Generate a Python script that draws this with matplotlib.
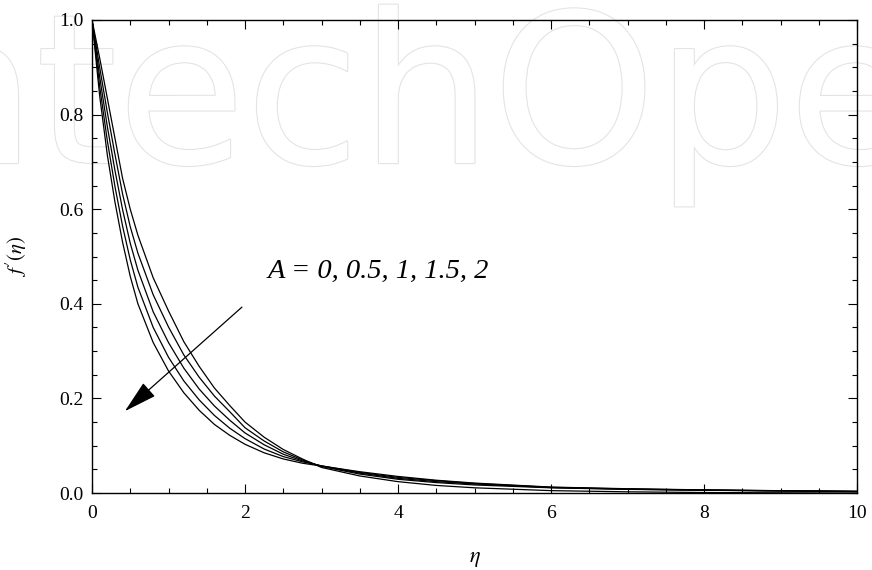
import numpy as np
import matplotlib
matplotlib.use('Agg')
import matplotlib.pyplot as plt
import matplotlib.patheffects as pe

# 数据
eta = [0, 0.1, 0.2, 0.3, 0.4, 0.5, 0.6, 0.8, 1.0, 1.2, 1.4, 1.6, 1.8, 2.0,
       2.25, 2.5, 2.75, 3.0, 3.5, 4.0, 4.5, 5.0, 6.0, 7.0, 8.0, 9.0, 10.0]

# A = 2, 1.5, 1, 0.5, 0
fp_A2 = [1, 0.840, 0.715, 0.615, 0.530, 0.458, 0.400, 0.318, 0.258, 0.212, 0.175, 0.145, 0.122, 0.103,
         0.085, 0.072, 0.063, 0.057, 0.045, 0.035, 0.027, 0.021, 0.0125, 0.009, 0.0066, 0.0049, 0.0036]
fp_A15 = [1, 0.860, 0.745, 0.648, 0.564, 0.493, 0.435, 0.350, 0.287, 0.237, 0.197, 0.164, 0.137, 0.115,
          0.093, 0.077, 0.066, 0.0575, 0.0435, 0.033, 0.026, 0.020, 0.012, 0.0085, 0.0063, 0.0047, 0.0034]
fp_A1 = [1, 0.880, 0.775, 0.682, 0.599, 0.528, 0.471, 0.383, 0.318, 0.264, 0.220, 0.184, 0.154, 0.127,
         0.102, 0.082, 0.068, 0.057, 0.042, 0.031, 0.024, 0.019, 0.0115, 0.008, 0.006, 0.0045, 0.0032]
fp_A05 = [1, 0.900, 0.805, 0.716, 0.632, 0.563, 0.507, 0.419, 0.351, 0.292, 0.245, 0.205, 0.172, 0.138,
          0.110, 0.087, 0.070, 0.056, 0.040, 0.029, 0.022, 0.017, 0.011, 0.0077, 0.0058, 0.0043, 0.003]
fp_A0 = [1, 0.920, 0.835, 0.750, 0.665, 0.600, 0.545, 0.455, 0.385, 0.320, 0.268, 0.222, 0.185, 0.150,
         0.118, 0.092, 0.072, 0.054, 0.036, 0.024, 0.016, 0.011, 0.005, 0.0025, 0.001, 0.0004, 0.0]

curves = [fp_A2, fp_A15, fp_A1, fp_A05, fp_A0]

x_ticks = [0, 2, 4, 6, 8, 10]
y_ticks = [0.0, 0.2, 0.4, 0.6, 0.8, 1.0]
y_tick_labels = ['0.0', '0.2', '0.4', '0.6', '0.8', '1.0']

plt.rcParams['font.family'] = ['Liberation Serif', 'DejaVu Serif']
plt.rcParams['mathtext.fontset'] = 'stix'

fig = plt.figure(figsize=(8.72, 5.70), dpi=100)
fig.patch.set_facecolor('white')

# 水印 (放在坐标轴下面)
wm = fig.text(-0.181, 0.714, 'IntechOpen', fontsize=150, family='DejaVu Sans',
              color='white', ha='left', va='baseline', zorder=0)
wm.set_path_effects([pe.Stroke(linewidth=1.6, foreground='#e4e4e4'), pe.Normal()])

ax = fig.add_axes([92 / 872, 1 - 493 / 570, 765 / 872, 473 / 570])
ax.set_zorder(1)
ax.set_facecolor('none')

for fp in curves:
    ax.plot(eta, fp, color='black', lw=0.9)

ax.set_xlim(0, 10)
ax.set_ylim(0, 1)
ax.set_xticks(x_ticks)
ax.set_xticks(np.arange(0, 10.01, 0.5), minor=True)
ax.set_yticks(y_ticks)
ax.set_yticklabels(y_tick_labels)
ax.set_yticks(np.arange(0, 1.001, 0.05), minor=True)
ax.tick_params(which='both', direction='in', top=True, right=True, labelsize=14, width=0.8)
ax.tick_params(which='major', length=6.5)
ax.tick_params(which='minor', length=3.3)
ax.tick_params(axis='x', pad=9)
ax.tick_params(axis='y', pad=6)
for s in ax.spines.values():
    s.set_linewidth(1.0)

ax.set_xlabel(r'$\eta$', fontsize=16, labelpad=20)
ax.set_ylabel(r"$f'(\eta)$", fontsize=15, labelpad=22)

# 注释与箭头
ax.text(2.30, 0.455, 'A = 0, 0.5, 1, 1.5, 2', fontsize=20.5, style='italic', ha='left', va='baseline')
ax.annotate('', xy=(0.43, 0.173), xytext=(1.96, 0.393),
            arrowprops=dict(arrowstyle='-|>,head_length=2.1,head_width=0.56', mutation_scale=10,
                            color='black', lw=0.9, shrinkA=0, shrinkB=0))

fig.savefig('out.png', dpi=100)
